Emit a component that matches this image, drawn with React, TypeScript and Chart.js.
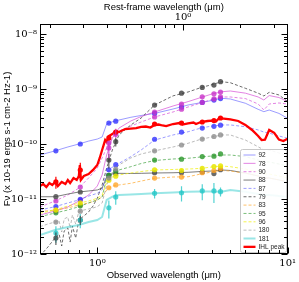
import React, { useEffect, useRef } from 'react';
import { Chart, registerables } from 'chart.js';

Chart.register(...registerables);

// ---------- axes ----------
const X_MIN = 0.5;
const X_MAX = 10;
const Y_MIN = 1e-12;
const Y_MAX = 1.52e-8;
const REST_FACTOR = 2.82; // 1 + z
const X_MAJOR = [1, 10];
const X_MAJOR_LABELS = ['10⁰', '10¹'];
const TOP_MAJOR = [1];
const TOP_MAJOR_LABELS = ['10⁰'];
const Y_MAJOR = [1e-12, 1e-11, 1e-10, 1e-9, 1e-8];
const Y_MAJOR_LABELS = ['10⁻¹²', '10⁻¹¹', '10⁻¹⁰', '10⁻⁹', '10⁻⁸'];

// ---------- model wavelengths (observed, micron) ----------
const WL_MODEL = [0.5, 0.6, 0.7, 0.8, 0.9, 1.0, 1.06, 1.12, 1.2, 1.3, 1.5, 1.7, 2.0, 2.5, 3.0, 3.5, 4.0, 4.5, 5.0, 6.0, 7.0, 7.5, 8.0, 9.0, 10];
const WL_WIGGLE = [0.5, 0.55, 0.6, 0.63, 0.65, 0.67, 0.7, 0.72, 0.74, 0.77, 0.8, 0.85, 0.9, 0.95, 1.0, 1.06, 1.12, 1.2, 1.3, 1.5, 1.7, 2.0, 2.5, 3.0, 3.5, 4.0, 4.5, 5.0, 6.0, 7.0, 7.5, 8.0, 9.0, 10];
const WL_IHL = [0.5, 0.52, 0.54, 0.56, 0.58, 0.6, 0.62, 0.65, 0.68, 0.7, 0.72, 0.75, 0.78, 0.8, 0.81, 0.82, 0.85, 0.9, 0.95, 1.0, 1.03, 1.06, 1.1, 1.12, 1.15, 1.2, 1.25, 1.3, 1.4, 1.5, 1.6, 1.7, 1.8, 1.9, 2.0, 2.1, 2.2, 2.3, 2.5, 2.7, 2.8, 3.0, 3.2, 3.3, 3.5, 3.8, 4.0, 4.2, 4.4, 4.5, 5.0, 5.5, 6.0, 6.5, 7.0, 7.3, 7.6, 8.0, 8.5, 9.0, 9.5, 10];

// ---------- model fluxes ----------
const F92 = [6.31e-11, 7.5e-11, 8.83e-11, 1.0e-10, 1.13e-10, 1.23e-10, 1.34e-10, 2.31e-10, 2.54e-10, 2.73e-10, 3.06e-10, 3.3e-10, 3.6e-10, 4.33e-10, 5.12e-10, 5.64e-10, 6.2e-10, 6.78e-10, 6.58e-10, 5.5e-10, 4.27e-10, 3.87e-10, 4.15e-10, 3.6e-10, 2.93e-10];
const F78 = [5.12e-12, 6.05e-12, 7.16e-12, 9.2e-12, 1.18e-11, 1.72e-11, 2.73e-11, 6.31e-11, 1.29e-10, 1.95e-10, 2.62e-10, 3.16e-10, 3.82e-10, 4.91e-10, 5.9e-10, 7.0e-10, 8.12e-10, 8.9e-10, 9.2e-10, 8.4e-10, 7.16e-10, 6.31e-10, 7.6e-10, 7.0e-10, 5.9e-10];
const F90 = [7.16e-12, 9.2e-12, 1.18e-11, 1.58e-11, 2.41e-11, 3.66e-11, 5.57e-11, 8.47e-11, 1.29e-10, 1.72e-10, 2.12e-10, 2.51e-10, 3.1e-10, 3.82e-10, 4.71e-10, 5.57e-10, 6.45e-10, 7.16e-10, 7.16e-10, 6.7e-10, 5.34e-10, 4.15e-10, 5.34e-10, 5.57e-10, 5.34e-10];
const F88 = [1.1e-11, 1.1e-11, 1.23e-11, 1.34e-11, 1.4e-11, 1.46e-11, 1.58e-11, 2.51e-11, 2.85e-11, 2.93e-11, 2.91e-11, 2.93e-11, 2.97e-11, 3.0e-11, 3.06e-11, 3.16e-11, 3.23e-11, 3.37e-11, 3.3e-11, 2.97e-11, 2.62e-11, 2.41e-11, 2.41e-11, 2.22e-11, 2.04e-11];
const F87 = [6.31e-12, 7.25e-12, 8.47e-12, 9.6e-12, 1.13e-11, 1.27e-11, 1.46e-11, 2.97e-11, 3.82e-11, 4.46e-11, 5.9e-11, 7.79e-11, 1.18e-10, 1.46e-10, 1.67e-10, 1.95e-10, 2.12e-10, 2.22e-10, 2.22e-10, 2.06e-10, 1.8e-10, 1.65e-10, 1.58e-10, 1.4e-10, 1.27e-10];
const F79 = [9.2e-13, 1.34e-12, 1.95e-12, 2.31e-12, 1.4e-12, 2.62e-12, 2.97e-12, 1.65e-12, 3.23e-12, 1.95e-12, 4.15e-12, 4.91e-12, 5.81e-12, 7.47e-12, 1.04e-11, 1.8e-11, 3.66e-11, 7.79e-11, 1.46e-10, 2.22e-10, 2.97e-10, 5.12e-10, 7.5e-10, 8.83e-10, 1.06e-9, 1.2e-9, 1.36e-9, 1.3e-9, 1.03e-9, 8.4e-10, 7.47e-10, 8.7e-10, 7.79e-10, 5.9e-10];
const F83 = [5.9e-12, 6.31e-12, 6.87e-12, 7.79e-12, 8.47e-12, 9.6e-12, 1.09e-11, 1.46e-11, 1.72e-11, 1.8e-11, 1.93e-11, 2.12e-11, 2.38e-11, 2.51e-11, 2.54e-11, 2.85e-11, 3.1e-11, 3.3e-11, 3.23e-11, 2.93e-11, 2.62e-11, 2.41e-11, 2.41e-11, 2.22e-11, 2.04e-11];
const F95 = [4.77e-12, 5.57e-12, 6.31e-12, 7.25e-12, 8.47e-12, 9.6e-12, 1.09e-11, 2.41e-11, 2.97e-11, 3.37e-11, 3.87e-11, 4.42e-11, 5.01e-11, 5.34e-11, 5.5e-11, 5.81e-11, 6.05e-11, 6.31e-11, 6.31e-11, 5.9e-11, 5.12e-11, 4.71e-11, 4.71e-11, 4.33e-11, 3.98e-11];
const F96 = [5.5e-12, 6.31e-12, 7.47e-12, 8.4e-12, 9.2e-12, 1.03e-11, 1.18e-11, 2.04e-11, 2.51e-11, 2.73e-11, 2.97e-11, 3.16e-11, 3.37e-11, 3.44e-11, 3.51e-11, 3.6e-11, 3.82e-11, 3.98e-11, 3.87e-11, 3.51e-11, 3.1e-11, 2.85e-11, 2.85e-11, 2.62e-11, 2.41e-11];
const F180 = [3.14e-12, 3.51e-12, 3.82e-12, 3.98e-12, 2.51e-12, 4.33e-12, 4.71e-12, 2.97e-12, 5.12e-12, 3.51e-12, 5.9e-12, 6.31e-12, 6.58e-12, 6.87e-12, 7.25e-12, 8.47e-12, 1.8e-11, 3.1e-11, 4.15e-11, 5.57e-11, 6.58e-11, 7.5e-11, 8.83e-11, 1.03e-10, 1.22e-10, 1.34e-10, 1.46e-10, 1.46e-10, 1.18e-10, 8.9e-11, 7.79e-11, 7.79e-11, 6.87e-11, 6.05e-11];
const F181 = [2.22e-12, 2.73e-12, 3.1e-12, 3.37e-12, 3.82e-12, 4.15e-12, 4.71e-12, 9.6e-12, 1.1e-11, 1.18e-11, 1.21e-11, 1.23e-11, 1.27e-11, 1.31e-11, 1.36e-11, 1.37e-11, 1.37e-11, 1.36e-11, 1.46e-11, 1.36e-11, 1.23e-11, 1.18e-11, 1.18e-11, 1.13e-11, 1.09e-11];
const FIHL = [1.72e-11, 1.87e-11, 1.65e-11, 1.95e-11, 1.8e-11, 2.04e-11, 1.72e-11, 2.04e-11, 1.87e-11, 2.22e-11, 1.95e-11, 2.41e-11, 2.22e-11, 2.62e-11, 4.15e-11, 2.22e-11, 2.62e-11, 2.85e-11, 3.37e-11, 4.15e-11, 5.57e-11, 7.79e-11, 1.18e-10, 1.09e-10, 1.4e-10, 1.52e-10, 1.72e-10, 1.65e-10, 1.87e-10, 1.91e-10, 1.95e-10, 2.04e-10, 2.08e-10, 1.99e-10, 2.22e-10, 2.26e-10, 2.17e-10, 2.12e-10, 2.31e-10, 2.41e-10, 2.26e-10, 2.38e-10, 2.46e-10, 2.31e-10, 2.51e-10, 2.62e-10, 2.67e-10, 2.57e-10, 3.03e-10, 2.91e-10, 2.81e-10, 2.62e-10, 2.22e-10, 1.8e-10, 1.4e-10, 1.18e-10, 1.2e-10, 1.8e-10, 1.6e-10, 1.2e-10, 1.13e-10, 1.25e-10];

// ---------- photometry ----------
const PHOT_WL = [0.606, 0.814, 1.15, 1.25, 2.0, 2.77, 3.56, 4.1, 4.44];
const P92 = [7.5e-11, 1.0e-10, 2.4e-10, 2.6e-10, 3.6e-10, 4.7e-10, 5.7e-10, 6.3e-10, 6.7e-10];
const P78 = [6.0e-12, 9.6e-12, 8.5e-11, 1.6e-10, 3.8e-10, 5.3e-10, 7.2e-10, 8.2e-10, 8.8e-10];
const P90 = [9.2e-12, 1.65e-11, 1.04e-10, 1.5e-10, 3.1e-10, 4.3e-10, 5.7e-10, 6.6e-10, 7.2e-10];
const P88 = [1.1e-11, 1.34e-11, 2.7e-11, 2.9e-11, 3.0e-11, 3.0e-11, 3.1e-11, 2.9e-11, 3.4e-11];
const P87 = [7.3e-12, 9.9e-12, 3.4e-11, 4.2e-11, 1.22e-10, 1.65e-10, 1.95e-10, 2.1e-10, 2.2e-10];
const P79 = [1.95e-12, 4.15e-12, 5.1e-11, 1.1e-10, 5.1e-10, 8.4e-10, 1.07e-9, 1.18e-9, 1.36e-9];
const P83 = [6.3e-12, 7.8e-12, 1.6e-11, 1.8e-11, 2.4e-11, 2.5e-11, 3.0e-11, 3.3e-11, 3.6e-11];
const P95 = [5.6e-12, 7.5e-12, 2.7e-11, 3.2e-11, 5.1e-11, 5.3e-11, 5.9e-11, 6.0e-11, 6.6e-11];
const P96 = [6.3e-12, 8.5e-12, 2.2e-11, 2.6e-11, 3.4e-11, 3.3e-11, 3.6e-11, 3.9e-11, 4.0e-11];
const P180 = [3.8e-12, 6.0e-12, 2.4e-11, 3.5e-11, 7.5e-11, 9.6e-11, 1.23e-10, 1.37e-10, 1.46e-10];
const P181 = [2.4e-12, 4.15e-12, 6.9e-12, 1.09e-11, 1.27e-11, 1.3e-11, 1.4e-11, 1.4e-11, 1.36e-11];
const E181 = [0.8e-12, 1.2e-12, 2.5e-12, 3e-12, 2.5e-12, 4e-12, 4.5e-12, 5.5e-12, 2.5e-12];
const E79 = [0.5e-12, 0.8e-12, 1.5e-11, 2e-11, 0, 0, 0, 0, 0];
const E78 = [0, 0, 3e-11, 3e-11, 0, 0, 0, 0, 0];
const PIHL = [2.04e-11, 3.37e-11, 1.29e-10, 1.65e-10, 2.31e-10, 2.41e-10, 2.51e-10, 2.67e-10, 2.97e-10];
const EIHL = [5e-12, 1.2e-11, 1.5e-11, 1.5e-11, 1e-11, 1e-11, 1e-11, 1e-11, 1.5e-11];

type Series = {
  label: string; wl: number[]; flux: number[]; pts: number[]; err?: number[];
  line: string; point: string; dash: number[]; width: number;
};

const SERIES: Series[] = [
  { label: '92', wl: WL_MODEL, flux: F92, pts: P92, line: 'rgba(90,90,255,0.6)', point: 'rgba(50,50,255,0.8)', dash: [], width: 1 },
  { label: '78', wl: WL_MODEL, flux: F78, pts: P78, err: E78, line: 'rgba(215,80,215,0.7)', point: 'rgba(200,50,200,0.8)', dash: [], width: 1 },
  { label: '90', wl: WL_MODEL, flux: F90, pts: P90, line: 'rgba(215,80,215,0.7)', point: 'rgba(200,50,200,0.8)', dash: [3, 2], width: 1 },
  { label: '88', wl: WL_MODEL, flux: F88, pts: P88, line: 'rgba(80,80,80,0.75)', point: 'rgba(70,70,70,0.8)', dash: [], width: 1 },
  { label: '87', wl: WL_MODEL, flux: F87, pts: P87, line: 'rgba(90,90,255,0.6)', point: 'rgba(50,50,255,0.8)', dash: [3, 2], width: 1 },
  { label: '79', wl: WL_WIGGLE, flux: F79, pts: P79, err: E79, line: 'rgba(60,60,60,0.75)', point: 'rgba(60,60,60,0.8)', dash: [3, 2], width: 1 },
  { label: '83', wl: WL_MODEL, flux: F83, pts: P83, line: 'rgba(255,165,40,0.7)', point: 'rgba(255,165,40,0.8)', dash: [3, 2], width: 1 },
  { label: '95', wl: WL_MODEL, flux: F95, pts: P95, line: 'rgba(50,155,50,0.65)', point: 'rgba(40,150,40,0.8)', dash: [3, 2], width: 1 },
  { label: '96', wl: WL_MODEL, flux: F96, pts: P96, line: 'rgba(240,240,20,0.75)', point: 'rgba(230,230,0,0.85)', dash: [3, 2], width: 1 },
  { label: '180', wl: WL_WIGGLE, flux: F180, pts: P180, line: 'rgba(150,150,150,0.65)', point: 'rgba(140,140,140,0.8)', dash: [3, 2], width: 1 },
  { label: '181', wl: WL_MODEL, flux: F181, pts: P181, err: E181, line: 'rgba(70,210,210,0.55)', point: 'rgba(40,200,200,0.8)', dash: [], width: 2 },
  { label: 'IHL peak', wl: WL_IHL, flux: FIHL, pts: PIHL, err: EIHL, line: '#ff0000', point: '#ff0000', dash: [], width: 2.3 },
];

const TICK_FONT = { family: 'DejaVu Serif', size: 10 };
const TITLE_FONT = { family: 'Liberation Sans', size: 9.5 };

function labelFor(v: number, majors: number[], labels: string[]) {
  const i = majors.findIndex((m) => Math.abs(v / m - 1) < 1e-6);
  return i >= 0 ? labels[i] : '';
}

function decadeTicks(min: number, max: number) {
  const out: { v: number; major: boolean }[] = [];
  for (let e = Math.floor(Math.log10(min)); e <= Math.ceil(Math.log10(max)); e++) {
    for (let m = 1; m <= 9; m++) {
      const v = m * Math.pow(10, e);
      if (v >= min * (1 - 1e-9) && v <= max * (1 + 1e-9)) out.push({ v, major: m === 1 });
    }
  }
  return out;
}

const errorBarPlugin = {
  id: 'errbars',
  afterDatasetsDraw(chart: any) {
    const { ctx, chartArea: a } = chart;
    const xs = chart.scales.x;
    const ys = chart.scales.y;
    ctx.save();
    ctx.beginPath();
    ctx.rect(a.left, a.top, a.right - a.left, a.bottom - a.top);
    ctx.clip();
    chart.data.datasets.forEach((ds: any) => {
      if (!ds.errs) return;
      ctx.strokeStyle = ds.errColor;
      ctx.lineWidth = 1.2;
      ds.data.forEach((p: any, i: number) => {
        const e = ds.errs[i];
        if (!e) return;
        const px = xs.getPixelForValue(p.x);
        const lo = Math.max(p.y - e, p.y * 0.3);
        const y1 = ys.getPixelForValue(lo);
        const y2 = ys.getPixelForValue(p.y + e);
        ctx.beginPath();
        ctx.moveTo(px, y1);
        ctx.lineTo(px, y2);
        ctx.stroke();
      });
    });
    ctx.restore();
  },
};

const framePlugin = {
  id: 'frame',
  afterDraw(chart: any) {
    const { ctx, chartArea: a, scales } = chart;
    const L = Math.round(a.left) + 0.5;
    const R = Math.round(a.right) - 0.5;
    const T = Math.round(a.top) + 0.5;
    const B = Math.round(a.bottom) - 0.5;
    ctx.save();

    // legend
    const lw = 46;
    const lh = 103;
    const lx = R - lw - 1;
    const ly = B - lh - 1;
    ctx.fillStyle = 'rgba(255,255,255,0.9)';
    ctx.strokeStyle = '#c8c8c8';
    ctx.lineWidth = 1;
    ctx.beginPath();
    const r = 2;
    ctx.moveTo(lx + r, ly);
    ctx.lineTo(lx + lw - r, ly);
    ctx.quadraticCurveTo(lx + lw, ly, lx + lw, ly + r);
    ctx.lineTo(lx + lw, ly + lh - r);
    ctx.quadraticCurveTo(lx + lw, ly + lh, lx + lw - r, ly + lh);
    ctx.lineTo(lx + r, ly + lh);
    ctx.quadraticCurveTo(lx, ly + lh, lx, ly + lh - r);
    ctx.lineTo(lx, ly + r);
    ctx.quadraticCurveTo(lx, ly, lx + r, ly);
    ctx.closePath();
    ctx.fill();
    ctx.stroke();
    ctx.font = '6.5px "Liberation Sans"';
    ctx.textBaseline = 'middle';
    ctx.textAlign = 'left';
    SERIES.forEach((s, i) => {
      const yy = ly + 5.5 + i * 8.35;
      ctx.strokeStyle = s.line;
      ctx.lineWidth = s.width;
      ctx.setLineDash(s.dash);
      ctx.beginPath();
      ctx.moveTo(lx + 3, yy);
      ctx.lineTo(lx + 15, yy);
      ctx.stroke();
      ctx.setLineDash([]);
      ctx.fillStyle = '#222';
      ctx.fillText(s.label, lx + 18, yy + 0.5);
    });

    // frame
    ctx.strokeStyle = '#000';
    ctx.lineWidth = 1;
    ctx.strokeRect(L, T, R - L, B - T);

    // ticks (inward)
    ctx.beginPath();
    decadeTicks(X_MIN, X_MAX).forEach((t) => {
      const px = Math.round(scales.x.getPixelForValue(t.v)) + 0.5;
      const len = t.major ? 6 : 3.5;
      ctx.moveTo(px, B);
      ctx.lineTo(px, B - len);
    });
    decadeTicks(X_MIN / REST_FACTOR, X_MAX / REST_FACTOR).forEach((t) => {
      const px = Math.round(scales.x2.getPixelForValue(t.v)) + 0.5;
      const len = t.major ? 6 : 3.5;
      ctx.moveTo(px, T);
      ctx.lineTo(px, T + len);
    });
    decadeTicks(Y_MIN, Y_MAX).forEach((t) => {
      const py = Math.round(scales.y.getPixelForValue(t.v)) + 0.5;
      const len = t.major ? 6 : 3.5;
      ctx.moveTo(L, py);
      ctx.lineTo(L + len, py);
      ctx.moveTo(R, py);
      ctx.lineTo(R - len, py);
    });
    ctx.stroke();
    ctx.restore();
  },
};

export default function App() {
  const ref = useRef<HTMLCanvasElement>(null);

  useEffect(() => {
    const canvas = ref.current;
    if (!canvas) return;

    const pointSets = SERIES.slice().reverse().map((s) => ({
      label: s.label + ' phot',
      data: PHOT_WL.map((w, i) => ({ x: w, y: s.pts[i] })),
      showLine: false,
      pointRadius: 2.6,
      pointBackgroundColor: s.point,
      pointBorderColor: s.point,
      pointBorderWidth: 0,
      errs: s.err,
      errColor: s.point,
    }));
    const lineSets = SERIES.slice().reverse().map((s) => ({
      label: s.label,
      data: s.wl.map((w, i) => ({ x: w, y: s.flux[i] })),
      showLine: true,
      pointRadius: 0,
      borderColor: s.line,
      borderWidth: s.width,
      borderDash: s.dash,
      tension: 0,
    }));

    const chart = new Chart(canvas, {
      type: 'scatter',
      data: { datasets: [...pointSets, ...lineSets] as any },
      options: {
        animation: false,
        responsive: true,
        maintainAspectRatio: false,
        events: [],
        layout: { padding: { left: 0, right: 11, top: 0, bottom: 0 } },
        plugins: { legend: { display: false }, tooltip: { enabled: false } },
        scales: {
          x: {
            type: 'logarithmic',
            position: 'bottom',
            min: X_MIN,
            max: X_MAX,
            grid: { display: false, drawTicks: false },
            border: { display: false },
            ticks: {
              autoSkip: false,
              maxRotation: 0,
              padding: 3,
              font: TICK_FONT,
              color: '#000',
              callback: (v: any) => labelFor(Number(v), X_MAJOR, X_MAJOR_LABELS),
            },
            title: { display: true, text: 'Observed wavelength (μm)', font: TITLE_FONT, color: '#000', padding: { top: 0, bottom: 1 } },
            afterFit: (s: any) => { s.height = 28; },
          },
          x2: {
            type: 'logarithmic',
            position: 'top',
            min: X_MIN / REST_FACTOR,
            max: X_MAX / REST_FACTOR,
            grid: { display: false, drawTicks: false },
            border: { display: false },
            ticks: {
              autoSkip: false,
              maxRotation: 0,
              padding: 1,
              font: TICK_FONT,
              color: '#000',
              callback: (v: any) => labelFor(Number(v), TOP_MAJOR, TOP_MAJOR_LABELS),
            },
            title: { display: true, text: 'Rest-frame wavelength (μm)', font: TITLE_FONT, color: '#000', padding: { top: 2, bottom: 0 } },
            afterFit: (s: any) => { s.height = 24; },
          },
          y: {
            type: 'logarithmic',
            position: 'left',
            min: Y_MIN,
            max: Y_MAX,
            grid: { display: false, drawTicks: false },
            border: { display: false },
            ticks: {
              autoSkip: false,
              padding: 3,
              font: TICK_FONT,
              color: '#000',
              callback: (v: any) => labelFor(Number(v), Y_MAJOR, Y_MAJOR_LABELS),
            },
            title: { display: true, text: 'Fν (x 10-19 ergs s-1 cm-2 Hz-1)', font: TITLE_FONT, color: '#000', padding: { top: 2, bottom: 0 } },
            afterFit: (s: any) => { s.width = 40; },
          },
        },
      } as any,
      plugins: [errorBarPlugin, framePlugin],
    });

    return () => chart.destroy();
  }, []);

  return (
    <div style={{ position: 'absolute', left: 0, top: 0, width: 299, height: 282 }}>
      <canvas ref={ref} />
    </div>
  );
}
